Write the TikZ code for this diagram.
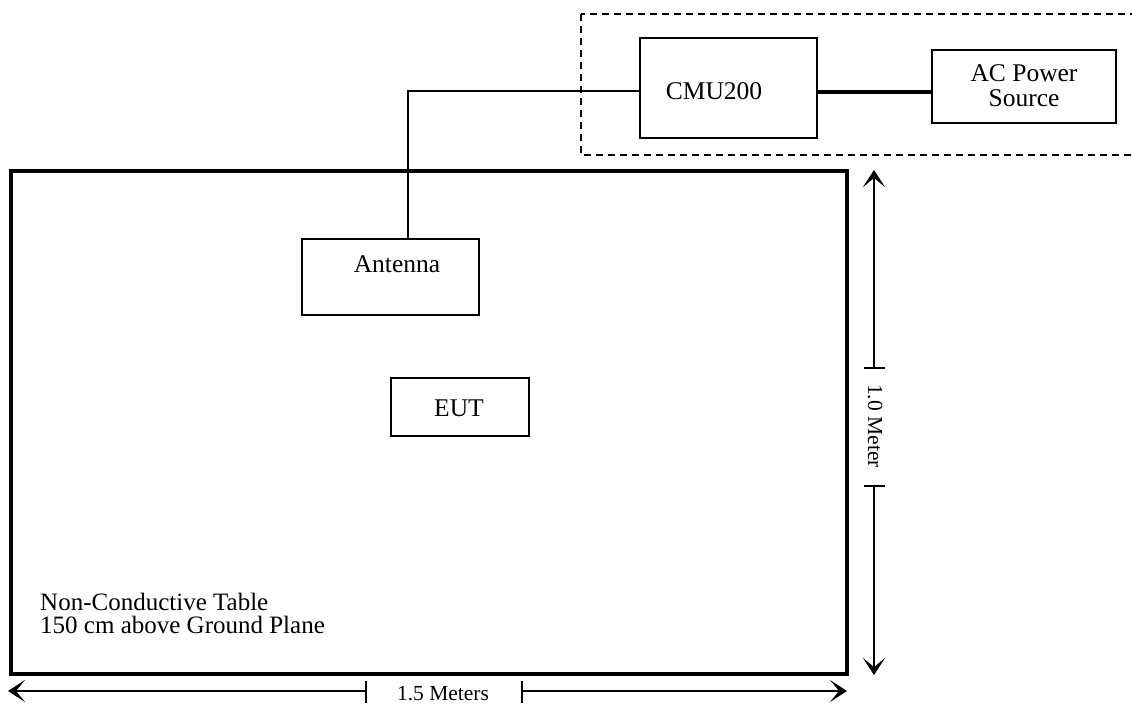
\documentclass[tikz,border=0pt]{standalone}
\usepackage{fontspec}
\setmainfont{Liberation Serif}
\usetikzlibrary{arrows.meta}
\tikzset{
  box/.style={draw, line width=1.8pt, inner sep=0pt, outer sep=0pt},
  lbl/.style={inner sep=0pt, font=\fontsize{25.5}{25}\selectfont, align=center},
  tbl/.style={inner sep=0pt, font=\fontsize{25}{23}\selectfont, align=left},
  dimlbl/.style={inner sep=0pt, font=\fontsize{21.5}{22}\selectfont},
  dimline/.style={line width=1.5pt},
  dimarrow/.style={line width=1.6pt, -{Stealth[length=17pt,width=22pt,inset=9pt]}},
  wire/.style={line width=1.5pt},
  pwr/.style={line width=3.4pt},
  grp/.style={line width=1.6pt, dash pattern=on 7pt off 5pt}
}
\begin{document}
\begin{tikzpicture}[x=1pt,y=-1pt]
\clip (0,0) rectangle (1132,704);
\useasboundingbox (0,0) rectangle (1132,704);
% dashed group
\draw[grp] (581,14) rectangle (1150,155);
% boxes
\node[box, minimum width=177pt, minimum height=100pt] (cmu) at (728.5,88) {};
\node[box, minimum width=184pt, minimum height=73pt] (ac) at (1024,86.5) {};
\node[box, minimum width=177pt, minimum height=76pt] (ant) at (390.5,277) {};
\node[box, minimum width=138pt, minimum height=58pt] (eut) at (460,407) {};
\node[draw, line width=3.2pt, inner sep=0pt, minimum width=836pt, minimum height=503pt] (table) at (429,422.5) {};
% labels
\node[lbl] (cmut) at (714,91) {CMU200};
\node[lbl] (act) at (1024,86) {AC Power\\Source};
\node[lbl] (antt) at (397,264) {Antenna};
\node[lbl] (eutt) at (459,408) {EUT};
\node[tbl, anchor=base west] (tabt) at (40,633) {Non-Conductive Table\\150 cm above Ground Plane};
% connections
\coordinate (bend) at (408,91);
\draw[wire] (bend -| cmu.west) -- (bend) -- (bend |- ant.north);
\coordinate (pw) at (0,92);
\draw[pwr] (pw -| cmu.east) -- (pw -| ac.west);
% vertical dimension
\coordinate (vtop) at (874,170);
\coordinate (vt1) at (874,368);
\coordinate (vt2) at (874,486);
\coordinate (vbot) at (874,675);
\draw[dimarrow] (vt1) -- (vtop);
\draw[dimarrow] (vt2) -- (vbot);
\draw[dimline] ([xshift=-10pt]vt1) -- ([xshift=11pt]vt1);
\draw[dimline] ([xshift=-10pt]vt2) -- ([xshift=11pt]vt2);
\node[dimlbl, rotate=-90] (vlab) at (875,426) {1.0 Meter};
% horizontal dimension
\coordinate (hl) at (8,691);
\coordinate (h1) at (366,691);
\coordinate (h2) at (522,691);
\coordinate (hr) at (847,691);
\draw[dimarrow] (h1) -- (hl);
\draw[dimarrow] (h2) -- (hr);
\draw[dimline] ([yshift=10pt]h1) -- ([yshift=-12pt]h1);
\draw[dimline] ([yshift=10pt]h2) -- ([yshift=-12pt]h2);
\node[dimlbl] (hlab) at (443,694) {1.5 Meters};
\end{tikzpicture}
\end{document}
